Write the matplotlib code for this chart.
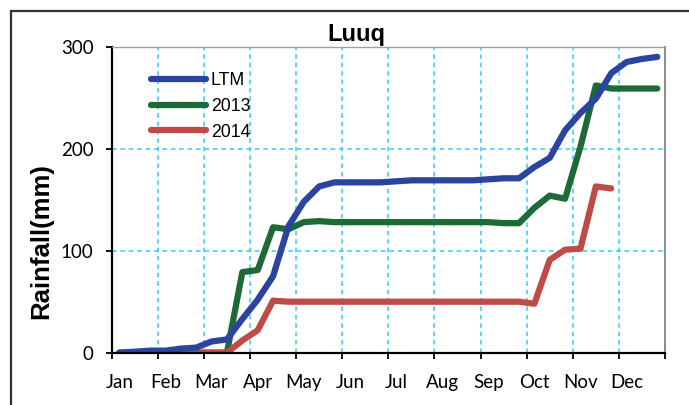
import numpy as np
import matplotlib
matplotlib.use("Agg")
import matplotlib.pyplot as plt
from matplotlib.patches import Rectangle

# dekadal cumulative rainfall (mm), 3 dekads per month
months = ["Jan", "Feb", "Mar", "Apr", "May", "Jun", "Jul", "Aug", "Sep", "Oct", "Nov", "Dec"]
ltm = [0, 1, 2, 2, 4, 5, 11, 13, 33, 52, 75, 124,
       148, 163, 167, 167, 167, 167, 168, 169, 169, 169, 169, 169,
       170, 171, 171, 182, 191, 218, 235, 249, 274, 285, 288, 290]
y2013 = [0, 0, 0, 0, 0, 0, 0, 0, 79, 81, 123, 121,
         128, 129, 128, 128, 128, 128, 128, 128, 128, 128, 128, 128,
         128, 127, 127, 142, 154, 151, 202, 262, 259, 259, 259, 259]
y2014 = [0, 0, 0, 0, 0, 0, 0, 0, 12, 22, 51, 50,
         50, 50, 50, 50, 50, 50, 50, 50, 50, 50, 50, 50,
         50, 50, 50, 48, 91, 101, 102, 163, 161, np.nan, np.nan, np.nan]
yticks = [0, 100, 200, 300]

W, H = 689, 405
fig = plt.figure(figsize=(W / 100, H / 100), dpi=100)

# outer frame of the chart object
fig.patches.append(Rectangle((11 / W, -0.1), 1.2, 1.1 - 11 / H, transform=fig.transFigure,
                             fill=False, edgecolor="#333333", linewidth=1.6))

ax = fig.add_axes([111.7 / W, 1 - 352.7 / H, (665 - 111.7) / W, (352.7 - 46.7) / H])

x = np.arange(36) + 0.5
lw = 4.5
ax.plot(x, ltm, color="#2A44A0", lw=lw, solid_capstyle="round", solid_joinstyle="round", label="LTM", zorder=4)
ax.plot(x, y2013, color="#1D6A37", lw=lw, solid_capstyle="round", solid_joinstyle="round", label="2013", zorder=3)
ax.plot(x, y2014, color="#BE4B48", lw=lw, solid_capstyle="round", solid_joinstyle="round", label="2014", zorder=3)

ax.set_xlim(0, 36)
ax.set_ylim(0, 300)

# tick marks at month boundaries, labels on first dekad of each month
ax.set_xticks(np.arange(0, 37, 3))
ax.set_xticklabels([])
ax.set_xticks(np.arange(12) * 3 + 0.5, minor=True)
ax.set_xticklabels(months, minor=True, family="Lato", fontsize=13.5)
ax.tick_params(axis="x", which="minor", length=0, pad=15)
ax.tick_params(axis="x", which="major", direction="out", length=4, width=1.3, color="black")

ax.set_yticks(yticks)
ax.set_yticklabels([str(v) for v in yticks], family="Lato", fontsize=13.5)
ax.tick_params(axis="y", direction="out", length=4, width=1.3, pad=9, color="black")

for xv in range(3, 36, 3):
    ax.axvline(xv, color="#33CCF5", lw=1.1, ls=(0, (3, 2.5)), zorder=1)
for yv in [100, 200, 300]:
    ax.axhline(yv, color="#33CCF5", lw=1.1, ls=(0, (3, 2.5)), zorder=1)

ax.spines["left"].set_color("black")
ax.spines["left"].set_linewidth(1.6)
ax.spines["bottom"].set_color("black")
ax.spines["bottom"].set_linewidth(1.6)
ax.spines["top"].set_color("#A0A0A0")
ax.spines["top"].set_linewidth(1.0)
ax.spines["right"].set_color("#8A8A8A")
ax.spines["right"].set_linewidth(1.4)
for s in ax.spines.values():
    s.set_zorder(5)

fig.text(356.7 / W, 1 - 35 / H, "Luuq", ha="center", va="center",
         family="Liberation Sans", fontweight="bold", fontsize=17)
fig.text(41 / W, 1 - 241 / H, "Rainfall(mm)", ha="center", va="center", rotation=90,
         family="Liberation Sans", fontweight="bold", fontsize=18.5)

leg = ax.legend(loc="upper left", bbox_to_anchor=(151 / W, 1 - 72 / H), bbox_transform=fig.transFigure,
                frameon=False, prop={"family": "Liberation Sans", "size": 12.7},
                handlelength=3.1, handletextpad=0.3, labelspacing=0.5, borderpad=0, borderaxespad=0)

fig.savefig("out.png", dpi=100)
